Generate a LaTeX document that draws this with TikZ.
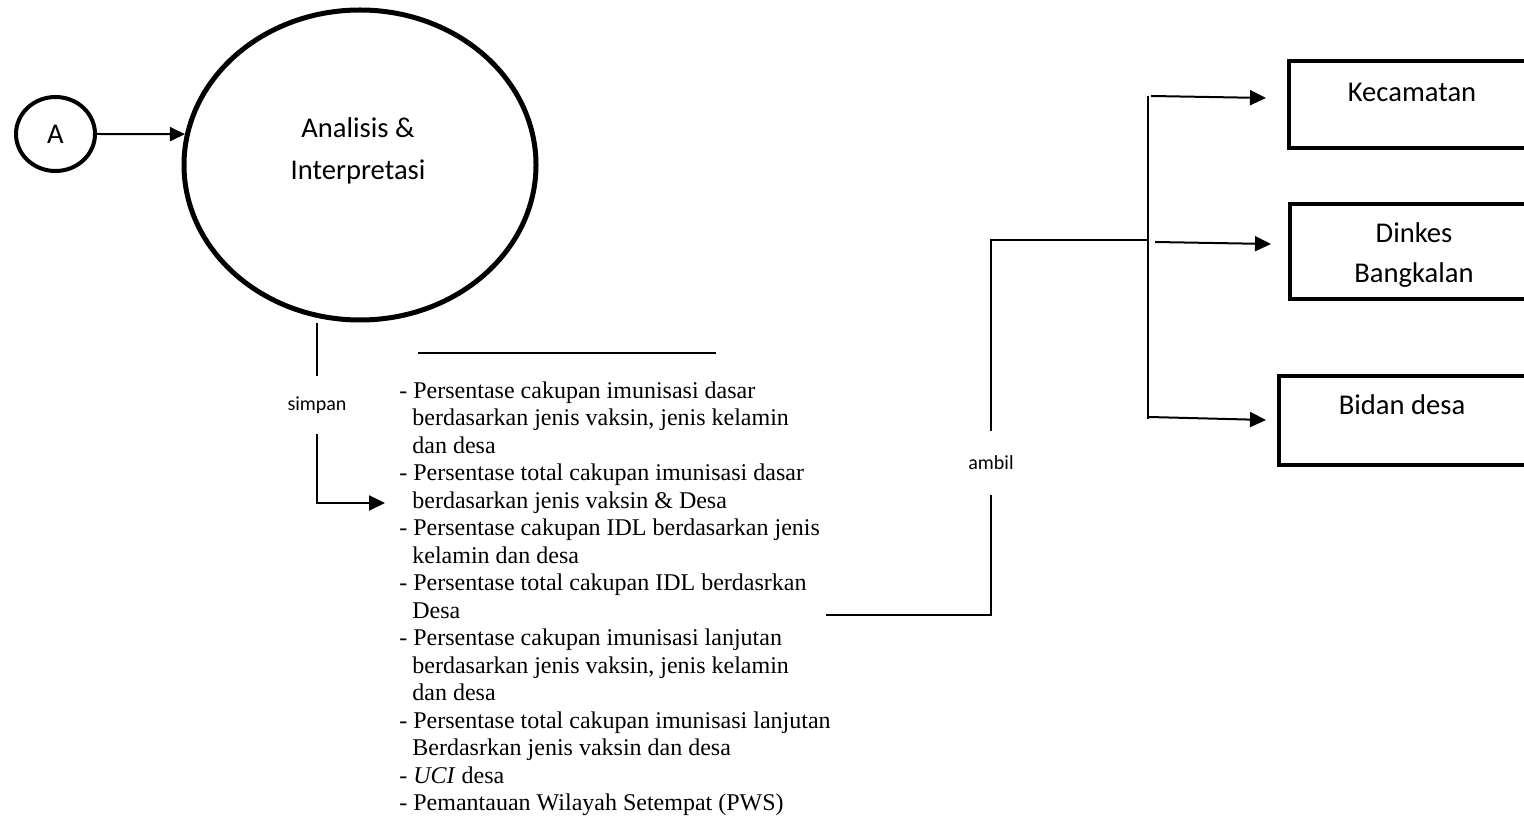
\documentclass[tikz,border=0pt]{standalone}
\usepackage{fontspec}
\setmainfont{Carlito}
\newfontfamily\serifface{Liberation Serif}
\usetikzlibrary{arrows.meta,shapes.geometric}
\newcommand\listindent{\hspace*{6.5pt}}
\begin{document}
\begin{tikzpicture}[x=0.5pt,y=-0.5pt,
  heavy/.style={draw, line width=2.3pt},
  conn/.style={line width=1pt},
  arr/.style={conn, -{Triangle[length=8pt,width=7.5pt]}},
  lbl/.style={font=\fontsize{14.3}{20}\selectfont, inner sep=0pt},
  tag/.style={font=\fontsize{10}{12}\selectfont, inner sep=0pt},
  target/.style={heavy, rectangle, minimum width=125pt, inner sep=0pt},
  itemlist/.style={anchor=north west, inner sep=0pt, align=left,
    font=\serifface\fontsize{12}{13.75}\selectfont}
]
\useasboundingbox (0,0) rectangle (1524,833);
\begin{scope}
\clip (0,0) rectangle (1524,833);

% connector A and the analysis process
\node[heavy, ellipse, line width=2pt, minimum width=39.5pt, minimum height=37pt, lbl] (aA) at (55.5,134) {A};
\node[heavy, ellipse, line width=2.5pt, minimum width=176pt, minimum height=155pt, inner sep=0pt] (ana) at (360,165) {};
\node[lbl, align=center, font=\fontsize{14.3}{21}\selectfont] (anaT) at (358,151) {Analisis \&\\Interpretasi};
\draw[conn, -{Triangle[length=7.5pt,width=7pt]}] (aA.east) -- (ana.170);

% store line and stored items
\coordinate (s1) at (317,323);
\coordinate (s2) at (385,503);
\node[tag, minimum height=29pt] (simpan) at (317,405) {simpan};
\draw[conn] (s1) -- (simpan);
\draw[arr] (simpan) |- (s2);

\coordinate (h1) at (418,353);
\coordinate (h2) at (716,353);
\draw[conn] (h1) -- (h2);

\node[itemlist] (items) at (399,381) {%
- Persentase cakupan imunisasi dasar\\
\listindent berdasarkan jenis vaksin, jenis kelamin\\
\listindent dan desa\\
- Persentase total cakupan imunisasi dasar\\
\listindent berdasarkan jenis vaksin \& Desa\\
- Persentase cakupan IDL berdasarkan jenis\\
\listindent kelamin dan desa\\
- Persentase total cakupan IDL berdasrkan\\
\listindent Desa\\
- Persentase cakupan imunisasi lanjutan\\
\listindent berdasarkan jenis vaksin, jenis kelamin\\
\listindent dan desa\\
- Persentase total cakupan imunisasi lanjutan\\
\listindent Berdasrkan jenis vaksin dan desa\\
- \textit{UCI} desa\\
- Pemantauan Wilayah Setempat (PWS)};

% retrieval and distribution
\coordinate (l1) at (826,615);
\coordinate (fork) at (1148,240);
\coordinate (ftop) at (1148,96);
\coordinate (fbot) at (1148,419);
\node[tag, minimum height=32pt] (ambil) at (991,463) {ambil};
\draw[conn] (ambil) |- (l1);
\draw[conn] (ambil) |- (fork);
\draw[line width=0.75pt] (ftop) -- (fbot);

\node[target, minimum height=43.5pt] (kec) at (1414,104.5) {};
\node[lbl] (kecT) at (1412,92) {Kecamatan};
\node[target, minimum height=47.5pt] (dinkes) at (1415,251.5) {};
\node[lbl, align=center] (dinkesT) at (1414,255) {Dinkes\\Bangkalan};
\node[target, minimum height=44.5pt] (bidan) at (1404,420.5) {};
\node[lbl] (bidanT) at (1402,405) {Bidan desa};

\coordinate (a1) at (1151,96);   \coordinate (b1) at (1266,98);
\coordinate (a2) at (1155,242);  \coordinate (b2) at (1271,244);
\coordinate (a3) at (1149,417);  \coordinate (b3) at (1266,420);
\draw[arr] (a1) -- (b1);
\draw[arr] (a2) -- (b2);
\draw[arr] (a3) -- (b3);
\end{scope}
\end{tikzpicture}
\end{document}
